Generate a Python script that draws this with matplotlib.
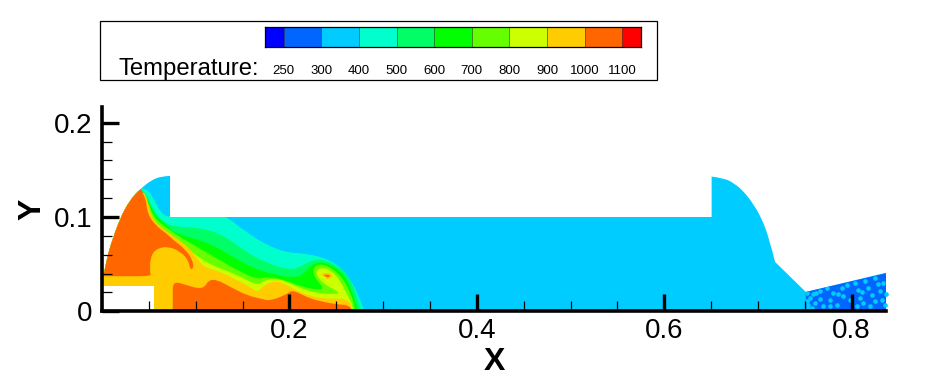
#!/usr/bin/env python3
# Temperature contour over the channel section, Tecplot look.
import matplotlib
matplotlib.use("Agg")
import matplotlib.pyplot as plt
from matplotlib.patches import PathPatch, Polygon, Rectangle
from matplotlib.path import Path
from matplotlib.ticker import MultipleLocator

plt.rcParams["font.family"] = ["Liberation Sans", "DejaVu Sans"]

W, H = 951, 390

# contour levels and legend
LEVEL_LABELS = ["250", "300", "400", "500", "600", "700", "800", "900", "1000", "1100"]
BAND_COLORS = ["#0000FF", "#0066FF", "#00CCFF", "#00FFCC", "#00FF66", "#00FF00",
               "#66FF00", "#CCFF00", "#FFCC00", "#FF6600", "#FF0000"]

C_COLD = "#0066FF"
C_BASE = "#00CCFF"
C_AQUA = "#00FFCC"
C_SPRING = "#00FF66"
C_GREEN = "#00FF00"
C_LIME = "#66FF00"
C_YLIME = "#CCFF00"
C_YELLOW = "#FFCC00"
C_ORANGE = "#FF6600"

# flow domain outline: left dome, then right dome, joined by straight walls
LEFT_DOME_X = [0.0021, 0.005, 0.0085, 0.0192, 0.0299, 0.0406, 0.0531, 0.0638, 0.0726]
LEFT_DOME_Y = [0.0405, 0.0543, 0.0684, 0.0986, 0.1181, 0.1295, 0.1394, 0.1432, 0.1436]
RIGHT_DOME_X = [0.6506, 0.664, 0.6745, 0.6852, 0.6958, 0.7048, 0.7119, 0.7183]
RIGHT_DOME_Y = [0.1429, 0.1412, 0.1358, 0.1269, 0.1128, 0.0968, 0.0773, 0.0524]
WALL_X = [0.7511, 0.8376, 0.8376, 0.0556, 0.0556, 0, 0]
WALL_Y = [0.0205, 0.0411, 0, 0, 0.0277, 0.0277, 0.0405]
CHANNEL_TOP = 0.1

# cold section at the outlet
WEDGE_X = [0.7511, 0.84, 0.84, 0.7511]
WEDGE_Y = [0.0205, 0.0411, 0, 0]
SPECK_X = [0.7527, 0.7556, 0.7538, 0.7591, 0.7663, 0.7609, 0.7698, 0.7769, 0.7805, 0.7841,
           0.7894, 0.7912, 0.8072, 0.809, 0.8125, 0.8179, 0.8214, 0.825, 0.8303, 0.8339,
           0.8321, 0.8357, 0.7947, 0.8036, 0.8143, 0.825, 0.7769, 0.8054, 0.8196, 0.7663,
           0.7734, 0.7520, 0.7530, 0.7575, 0.7625, 0.7860, 0.7985, 0.8110, 0.8285, 0.8370]
SPECK_Y = [0.0194, 0.0141, 0.0071, 0.0184, 0.0134, 0.0088, 0.0053, 0.0124, 0.0194, 0.0071,
           0.0247, 0.0159, 0.023, 0.0141, 0.0088, 0.0247, 0.0177, 0.0106, 0.0212, 0.03,
           0.0124, 0.0071, 0.0283, 0.03, 0.0318, 0.0353, 0.0053, 0.0053, 0.0053, 0.0212,
           0.0247, 0.0110, 0.0030, 0.0040, 0.0190, 0.0180, 0.0120, 0.0200, 0.0290, 0.0180]

# isotherm outlines, coldest first
AQUA_X = [0.0424, 0.0495, 0.0548, 0.0602, 0.0655, 0.0726, 0.1296, 0.1331, 0.1544, 0.1757, 0.1971,
          0.2149, 0.2362, 0.254, 0.2682, 0.2761, 0.2796, 0.2796, 0, 0]
AQUA_Y = [0.1305, 0.1287, 0.1199, 0.1092, 0.1021, 0.1, 0.1, 0.1, 0.0837, 0.0703, 0.0622,
          0.0615, 0.0572, 0.048, 0.0297, 0.0102, 0.0014, 0, 0, 0.14]

SPRING_X = [0.0424, 0.0459, 0.0513, 0.0566, 0.0655, 0.0762, 0.1046, 0.1295, 0.1508, 0.1722, 0.1971,
            0.2095, 0.222, 0.2362, 0.2576, 0.2682, 0.2736, 0.2761, 0.2761, 0, 0]
SPRING_Y = [0.1287, 0.1269, 0.1163, 0.1039, 0.095, 0.0897, 0.089, 0.0809, 0.065, 0.0526, 0.0445,
            0.0456, 0.0537, 0.0558, 0.0445, 0.0279, 0.0102, 0.0014, 0, 0, 0.14]

GREEN_X = [0.0432, 0.0478, 0.0527, 0.06, 0.0708, 0.0761, 0.0975, 0.1188, 0.1402, 0.1615, 0.1811,
           0.2006, 0.2131, 0.2202, 0.2273, 0.238, 0.254, 0.2657, 0.2718, 0.2725, 0, 0]
GREEN_Y = [0.1275, 0.1205, 0.1092, 0.0985, 0.0905, 0.0834, 0.0774, 0.0703, 0.0572, 0.0456, 0.0396,
           0.036, 0.0374, 0.0456, 0.0516, 0.0516, 0.0438, 0.0261, 0.0049, 0, 0, 0.14]

LIME_X = [0.0441, 0.0495, 0.0541, 0.062, 0.0726, 0.0797, 0.101, 0.1224, 0.1437, 0.1651, 0.1757,
          0.1935, 0.2149, 0.2327, 0.2362, 0.2273, 0.2248, 0.2291, 0.2398, 0.2522, 0.2629, 0.2682,
          0.27, 0, 0]
LIME_Y = [0.1259, 0.1146, 0.1021, 0.0933, 0.0862, 0.0809, 0.0685, 0.0562, 0.0438, 0.0339, 0.0367,
          0.0339, 0.0254, 0.0226, 0.0254, 0.035, 0.0438, 0.0498, 0.0491, 0.0403, 0.0261, 0.0102,
          0, 0, 0.14]

YLIME_X = [0.0449, 0.0495, 0.0531, 0.0602, 0.0745, 0.0868, 0.1046, 0.1206, 0.1402, 0.158, 0.1668,
           0.174, 0.1864, 0.2006, 0.2184, 0.2362, 0.2522, 0.2522, 0.2433, 0.2355, 0.2291, 0.2291,
           0.2362, 0.2469, 0.2558, 0.2611, 0.2664, 0.2682, 0, 0]
YLIME_Y = [0.1245, 0.111, 0.1003, 0.0897, 0.0809, 0.0703, 0.0562, 0.0473, 0.0403, 0.0314, 0.0279,
           0.0332, 0.035, 0.0297, 0.0219, 0.0184, 0.0184, 0.0208, 0.0254, 0.0304, 0.0374, 0.0438,
           0.0466, 0.042, 0.0297, 0.0183, 0.0084, 0, 0, 0.14]

YELLOW_X = [0.0455, 0.0505, 0.0519, 0.0619, 0.0761, 0.0939, 0.1028, 0.1099, 0.1242, 0.1402, 0.158,
            0.1661, 0.1722, 0.1864, 0.1971, 0.2078, 0.222, 0.2433, 0.2611, 0.2657, 0.2672, 0, 0]
YELLOW_Y = [0.125, 0.1127, 0.1009, 0.0898, 0.0798, 0.0668, 0.0537, 0.0463, 0.0427, 0.035, 0.0261,
            0.0198, 0.0279, 0.0325, 0.0279, 0.0219, 0.0162, 0.0127, 0.0141, 0.0074, 0, 0, 0.14]

# orange core above the jet, with its crescent
CORE_X = [0.0415, 0.0435, 0.047, 0.0484, 0.0566, 0.0708, 0.0762, 0.0887, 0.0969, 0.0975, 0.094, 0.0922,
          0.0833, 0.0691, 0.0566, 0.0513, 0.0513, 0.0523, 0.0406, 0, 0]
CORE_Y = [0.1305, 0.1252, 0.1181, 0.1039, 0.0915, 0.081, 0.0755, 0.066, 0.0543, 0.045, 0.0445, 0.0543,
          0.0638, 0.0691, 0.0656, 0.056, 0.0401, 0.0375, 0.0372, 0.0372, 0.14]

# orange layer along the floor
FLOOR_X = [0.0755, 0.0755, 0.0755, 0.0791, 0.0905, 0.1029, 0.11, 0.1136, 0.1225, 0.1368, 0.1546, 0.1688,
           0.1795, 0.1973, 0.2026, 0.2098, 0.2222, 0.2365, 0.2507, 0.265, 0.2674]
FLOOR_Y = [0, 0.02, 0.0277, 0.0312, 0.0277, 0.0241, 0.0259, 0.033, 0.0337, 0.0259, 0.017, 0.0135,
           0.011, 0.0181, 0.0223, 0.0195, 0.0135, 0.0099, 0.0074, 0.0064, 0]

# hot spot in the roll-up
SPOT_YELLOW_X = [0.2334, 0.2405, 0.2487, 0.2405]
SPOT_YELLOW_Y = [0.0393, 0.0421, 0.0368, 0.0339]
SPOT_ORANGE_X = [0.2362, 0.2405, 0.2448, 0.2405]
SPOT_ORANGE_Y = [0.0385, 0.0396, 0.0371, 0.036]

# outline, colour, closing points left straight
BANDS = [
    (AQUA_X, AQUA_Y, C_AQUA, 3),
    (SPRING_X, SPRING_Y, C_SPRING, 3),
    (GREEN_X, GREEN_Y, C_GREEN, 3),
    (LIME_X, LIME_Y, C_LIME, 3),
    (YLIME_X, YLIME_Y, C_YLIME, 3),
    (YELLOW_X, YELLOW_Y, C_YELLOW, 3),
    (CORE_X, CORE_Y, C_ORANGE, 2),
    (FLOOR_X, FLOOR_Y, C_ORANGE, 0),
    (SPOT_YELLOW_X, SPOT_YELLOW_Y, C_YELLOW, 0),
    (SPOT_ORANGE_X, SPOT_ORANGE_Y, C_ORANGE, 0),
]


def px_axes(fig, left, top, right, bottom, **kwargs):
    return fig.add_axes([left / W, 1 - bottom / H, (right - left) / W, (bottom - top) / H], **kwargs)


def add_curve(verts, codes, xs, ys):
    # quadratic segments through midpoints, read points act as control points
    pts = list(zip(xs, ys))
    verts.append(pts[0])
    codes.append(Path.LINETO if codes else Path.MOVETO)
    for i in range(1, len(pts) - 1):
        ctrl = pts[i]
        if i < len(pts) - 2:
            end = ((pts[i][0] + pts[i + 1][0]) / 2, (pts[i][1] + pts[i + 1][1]) / 2)
        else:
            end = pts[i + 1]
        verts += [ctrl, end]
        codes += [Path.CURVE3, Path.CURVE3]


def band_path(xs, ys, n_straight):
    verts, codes = [], []
    n_curve = len(xs) - n_straight
    add_curve(verts, codes, xs[:n_curve], ys[:n_curve])
    for x, y in zip(xs[n_curve:], ys[n_curve:]):
        verts.append((x, y))
        codes.append(Path.LINETO)
    verts.append(verts[0])
    codes.append(Path.CLOSEPOLY)
    return Path(verts, codes)


def domain_path():
    verts, codes = [], []
    add_curve(verts, codes, LEFT_DOME_X, LEFT_DOME_Y)
    verts += [(LEFT_DOME_X[-1], CHANNEL_TOP), (RIGHT_DOME_X[0], CHANNEL_TOP)]
    codes += [Path.LINETO, Path.LINETO]
    add_curve(verts, codes, RIGHT_DOME_X, RIGHT_DOME_Y)
    for x, y in zip(WALL_X, WALL_Y):
        verts.append((x, y))
        codes.append(Path.LINETO)
    verts.append(verts[0])
    codes.append(Path.CLOSEPOLY)
    return Path(verts, codes)


def draw_field(ax):
    domain = PathPatch(domain_path(), facecolor=C_BASE, edgecolor="none", zorder=1)
    ax.add_patch(domain)

    wedge = Polygon(list(zip(WEDGE_X, WEDGE_Y)), closed=True, facecolor=C_COLD, edgecolor="none", zorder=1.1)
    ax.add_patch(wedge)
    specks = ax.scatter(SPECK_X, SPECK_Y, s=11, color=C_BASE, linewidths=0, zorder=1.2)
    specks.set_clip_path(wedge)

    for i, (xs, ys, color, n_straight) in enumerate(BANDS):
        band = PathPatch(band_path(xs, ys, n_straight), facecolor=color, edgecolor="none", zorder=1.3 + i * 0.01)
        ax.add_patch(band)
        band.set_clip_path(domain)


def style_axes(ax):
    ax.set_xlim(0, 0.8367)
    ax.set_ylim(0, 0.217)
    for side in ["top", "right"]:
        ax.spines[side].set_visible(False)
    for side in ["left", "bottom"]:
        ax.spines[side].set_linewidth(2.6)

    ax.xaxis.set_minor_locator(MultipleLocator(0.05))
    ax.yaxis.set_minor_locator(MultipleLocator(0.02))
    ax.tick_params(which="major", direction="in", length=12.5, width=2.4, labelsize=20)
    ax.tick_params(which="minor", direction="in", length=7.5, width=0.9)
    ax.tick_params(axis="x", which="major", pad=5)
    ax.tick_params(axis="y", which="major", pad=7)
    ax.set_xticks([0.2, 0.4, 0.6, 0.8])
    ax.set_xticklabels(["0.2", "0.4", "0.6", "0.8"])
    ax.set_yticks([0, 0.1, 0.2])
    ax.set_yticklabels(["0", "0.1", "0.2"])
    ax.set_xlabel("X", fontsize=23, fontweight="bold", labelpad=2)
    ax.set_ylabel("Y", fontsize=23, fontweight="bold", labelpad=4.5)


def draw_legend(fig):
    box = Rectangle((100 / W, 1 - 79.5 / H), 557 / W, 58.5 / H, transform=fig.transFigure,
                    facecolor="white", edgecolor="black", linewidth=0.9, zorder=-1)
    fig.add_artist(box)
    cax = px_axes(fig, 264.7, 27, 641.3, 47, zorder=2)
    edges = [-0.5] + [i + 0.0 for i in range(len(LEVEL_LABELS))] + [len(LEVEL_LABELS) - 0.5]
    for i, color in enumerate(BAND_COLORS):
        cax.bar(edges[i], 1, width=edges[i + 1] - edges[i], align="edge", color=color,
                edgecolor="#00000066", linewidth=0.6)
    cax.set_xlim(edges[0], edges[-1])
    cax.set_ylim(0, 1)
    cax.set_yticks([])
    cax.set_xticks(range(len(LEVEL_LABELS)))
    cax.set_xticklabels(LEVEL_LABELS, fontsize=9.5)
    cax.tick_params(axis="x", length=0, pad=13)
    for spine in cax.spines.values():
        spine.set_linewidth(0.9)
    fig.text(118.5 / W, 1 - 75 / H, "Temperature:", fontsize=17.2, ha="left", va="baseline", zorder=3)


def main():
    fig = plt.figure(figsize=(W / 100, H / 100), dpi=100)
    ax = px_axes(fig, 102, 106.7, 886, 311.3, zorder=1)
    draw_field(ax)
    style_axes(ax)
    draw_legend(fig)
    fig.savefig("out.png", dpi=100)


if __name__ == "__main__":
    main()
